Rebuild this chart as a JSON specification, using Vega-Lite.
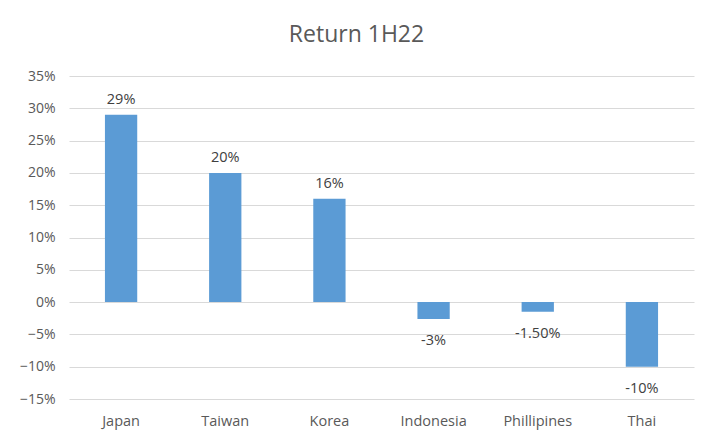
{
  "$schema": "https://vega.github.io/schema/vega-lite/v6.json",
  "width": 625,
  "height": 323,
  "autosize": {"type": "none"},
  "padding": {"left": 69, "top": 76, "right": 22, "bottom": 40},
  "background": "white",
  "title": {
    "text": "Return 1H22",
    "fontSize": 23,
    "font": "Open Sans",
    "fontWeight": "normal",
    "color": "#595959",
    "dx": -25,
    "offset": 22
  },
  "data": {
    "values": [
      {"country": "Japan", "ret": 0.29, "label": "29%"},
      {"country": "Taiwan", "ret": 0.20, "label": "20%"},
      {"country": "Korea", "ret": 0.16, "label": "16%"},
      {"country": "Indonesia", "ret": -0.026, "label": "-3%"},
      {"country": "Phillipines", "ret": -0.015, "label": "-1.50%"},
      {"country": "Thai", "ret": -0.10, "label": "-10%"}
    ]
  },
  "encoding": {
    "x": {
      "field": "country",
      "type": "nominal",
      "sort": null,
      "scale": {"paddingInner": 0.69, "paddingOuter": 0.345},
      "axis": {
        "title": null,
        "labelAngle": 0,
        "domain": false,
        "ticks": false,
        "labelPadding": 15,
        "labelFontSize": 14.5,
        "labelFont": "Open Sans",
        "labelColor": "#595959"
      }
    },
    "y": {
      "field": "ret",
      "type": "quantitative",
      "scale": {"domain": [-0.15, 0.35], "nice": false},
      "axis": {
        "title": null,
        "values": [-0.15, -0.1, -0.05, 0, 0.05, 0.1, 0.15, 0.2, 0.25, 0.3, 0.35],
        "format": ".0%",
        "domain": false,
        "ticks": false,
        "labelPadding": 14,
        "labelFontSize": 14,
        "labelFont": "Open Sans",
        "labelColor": "#595959",
        "gridColor": "#D9D9D9",
        "gridWidth": 1
      }
    }
  },
  "layer": [
    {"mark": {"type": "bar", "color": "#5B9BD5"}},
    {
      "transform": [{"filter": "datum.ret >= 0"}],
      "mark": {"type": "text", "baseline": "bottom", "dy": -8, "fontSize": 14.5, "font": "Open Sans", "color": "#404040"},
      "encoding": {"text": {"field": "label"}}
    },
    {
      "transform": [{"filter": "datum.ret < 0"}],
      "mark": {"type": "text", "baseline": "top", "dy": 15, "fontSize": 14.5, "font": "Open Sans", "color": "#404040"},
      "encoding": {"text": {"field": "label"}}
    }
  ],
  "config": {"view": {"stroke": null}}
}
